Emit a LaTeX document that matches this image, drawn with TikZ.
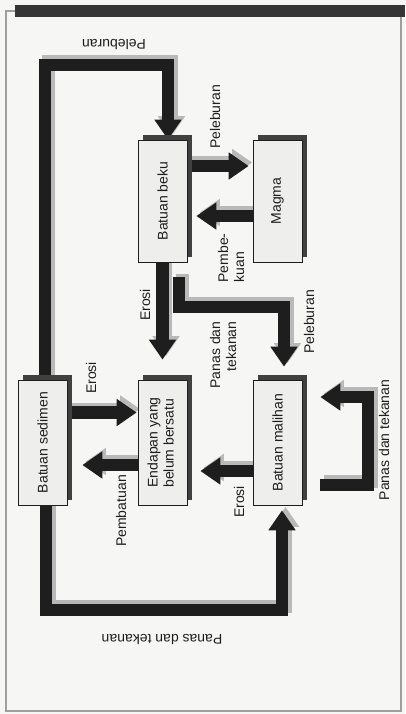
\documentclass[tikz,border=0pt]{standalone}
\usepackage{fontspec}
\setmainfont{Liberation Sans}
\usepackage{graphicx}
\usetikzlibrary{arrows.meta,calc,shadows}
\definecolor{paper}{HTML}{F6F6F4}
\definecolor{boxc}{HTML}{EEEEEC}
\definecolor{ink}{HTML}{1E1E1E}
\tikzset{
  bar/.style={line width=12.5pt, line join=miter, -{Triangle[width=26pt,length=20pt]}},
  rockbox/.style={draw=ink, line width=0.7pt, fill=boxc, minimum width=49pt, minimum height=#1, inner sep=0pt,
     drop shadow={shadow xshift=5pt, shadow yshift=5pt, opacity=1, fill=ink!85},
     font=\fontsize{14}{16}\selectfont, text=ink},
  lab/.style={inner sep=0pt, font=\fontsize{14}{16}\selectfont, text=ink}
}
\newcommand{\rockbars}[1]{%
  % Peleburan: sedimen -> beku
  \draw[bar,#1] (sedimen.north -| p1) -- (p1) -- (p2) -- (beku.north -| p2);
  % Peleburan: beku -> magma
  \draw[bar,#1,shorten >=4pt] ($(beku.east)+(0,-35)$) -- ($(magma.west)+(0,-35)$);
  % Pembekuan: magma -> beku
  \draw[bar,#1,shorten >=9pt] ($(magma.west)+(0,15)$) -- ($(beku.east)+(0,15)$);
  % Erosi: beku -> endapan
  \draw[bar,#1,shorten >=20pt] (beku.south) -- (endapan.north);
  % Panas dan tekanan: beku -> malihan
  \draw[bar,#1,shorten >=13pt] ($(beku.south)+(16.5,15)$) -- (q1) -- (q2) -- (malihan.north -| q2);
  % Erosi: sedimen -> endapan
  \draw[bar,#1,shorten >=1pt] ($(sedimen.east)+(0,-30)$) -- ($(endapan.west)+(0,-30)$);
  % Pembatuan: endapan -> sedimen
  \draw[bar,#1,shorten >=15pt] ($(endapan.west)+(0,22.5)$) -- ($(sedimen.east)+(0,22.5)$);
  % Erosi: malihan -> endapan
  \draw[bar,#1,shorten >=13pt] ($(malihan.west)+(0,28.5)$) -- ($(endapan.east)+(0,28.5)$);
  % Panas dan tekanan: malihan -> malihan
  \draw[bar,#1] ($(malihan.east)+(18,42.5)$) -- (r1) -- (r2) -- ($(malihan.east)+(18,-45.5)$);
  % Panas dan tekanan: sedimen -> malihan
  \draw[bar,#1,shorten >=5pt] (sedimen.south -| b1) -- (b1) -- (b2) -- (malihan.south -| b2);
}
\begin{document}
\begin{tikzpicture}[x=1pt,y=-1pt]
\useasboundingbox (0,0) rectangle (405,714);
\fill[paper] (0,0) rectangle (405,714);
\draw[gray!75, line width=1.3pt] (6,11) rectangle (401,711);
\fill[ink!90] (15,5) rectangle (405,17);

% boxes (placed first so that the connectors can use their names)
\path (162.5,201)   node[rockbox=122pt] (beku) {\rotatebox{90}{Batuan beku}};
\path (277.5,201)   node[rockbox=122pt] (magma) {\rotatebox{90}{Magma}};
\path (42.5,442.5)  node[rockbox=125pt] (sedimen) {\rotatebox{90}{Batuan sedimen}};
\path (162.5,442.5) node[rockbox=125pt] (endapan) {\rotatebox{90}{\begin{tabular}{@{}l@{}}Endapan yang\\belum bersatu\end{tabular}}};
\path (277.5,442.5) node[rockbox=125pt] (malihan) {\rotatebox{90}{Batuan malihan}};

\coordinate (p1) at (45,65);
\coordinate (p2) at (168,65);
\coordinate (q1) at (179,307);
\coordinate (q2) at (284,307);
\coordinate (r1) at (368,485);
\coordinate (r2) at (368,397);
\coordinate (b1) at (46,610);
\coordinate (b2) at (282,610);

\begin{scope}[transform canvas={xshift=3.5pt,yshift=3.5pt}]
  \rockbars{draw=gray!55}
\end{scope}
\rockbars{draw=ink}

% boxes again, on top of the connectors
\path (162.5,201)   node[rockbox=122pt] {\rotatebox{90}{Batuan beku}};
\path (277.5,201)   node[rockbox=122pt] {\rotatebox{90}{Magma}};
\path (42.5,442.5)  node[rockbox=125pt] {\rotatebox{90}{Batuan sedimen}};
\path (162.5,442.5) node[rockbox=125pt] {\rotatebox{90}{\begin{tabular}{@{}l@{}}Endapan yang\\belum bersatu\end{tabular}}};
\path (277.5,442.5) node[rockbox=125pt] {\rotatebox{90}{Batuan malihan}};

% labels
\node[lab] (l1) at (114,45) {\rotatebox{180}{Peleburan}};
\node[lab] (l2) at (215,117) {\rotatebox{90}{Peleburan}};
\node[lab] (l3) at (233,258) {\rotatebox{90}{\begin{tabular}{@{}l@{}}Pembe-\\kuan\end{tabular}}};
\node[lab] (l4) at (145,305) {\rotatebox{90}{Erosi}};
\node[lab] (l5) at (225,355) {\rotatebox{90}{\begin{tabular}{@{}r@{}}Panas dan\\tekanan\end{tabular}}};
\node[lab] (l6) at (309,322) {\rotatebox{90}{Peleburan}};
\node[lab] (l7) at (91,378) {\rotatebox{90}{Erosi}};
\node[lab] (l8) at (121,511) {\rotatebox{90}{Pembatuan}};
\node[lab] (l9) at (239,502) {\rotatebox{90}{Erosi}};
\node[lab] (l10) at (384,440) {\rotatebox{90}{Panas dan tekanan}};
\node[lab] (l11) at (162,639) {\rotatebox{180}{Panas dan tekanan}};
\end{tikzpicture}
\end{document}
